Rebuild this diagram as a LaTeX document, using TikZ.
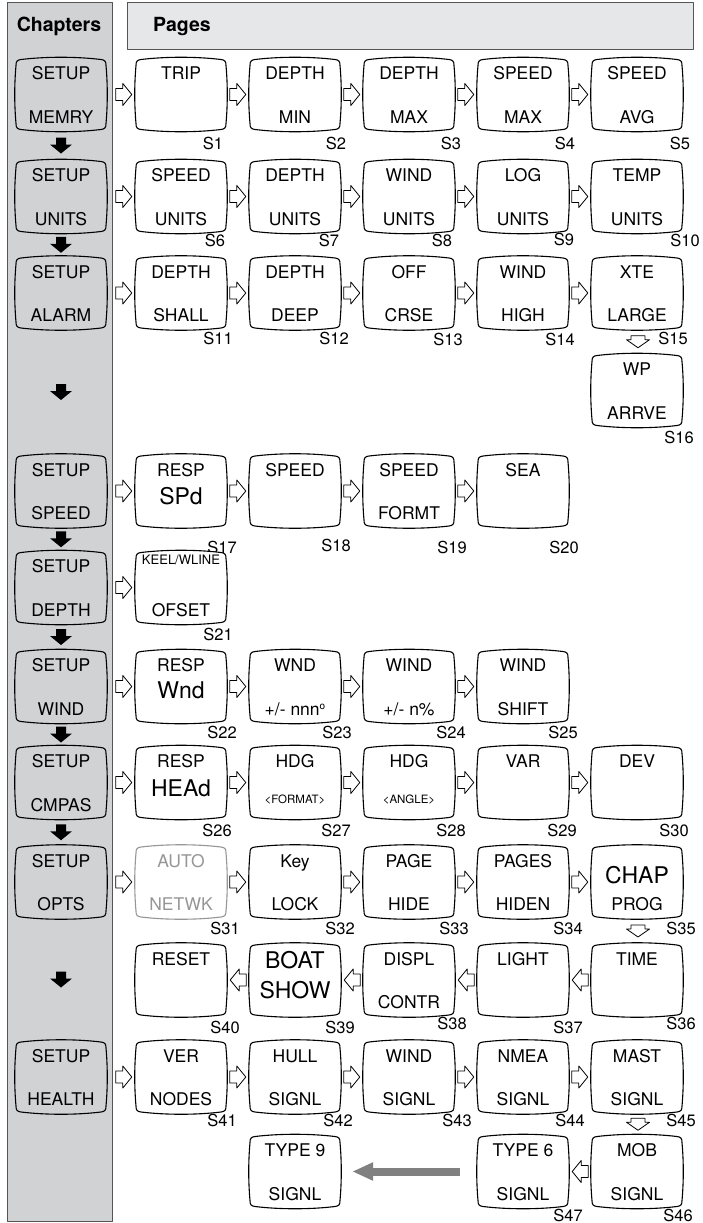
\documentclass[tikz,border=0pt]{standalone}
\usepackage{fontspec}
\setmainfont{TeX Gyre Heros}
\usetikzlibrary{calc,arrows.meta}
\definecolor{panel}{RGB}{209,210,212}
\definecolor{headfill}{RGB}{230,231,232}
\definecolor{framec}{RGB}{85,85,85}
\definecolor{dim}{RGB}{150,150,150}
\definecolor{bigarrow}{RGB}{128,128,128}
\tikzset{
  tvs/.pic={\path[pic actions] (-40,-35) .. controls (-15,-38) and (15,-38) .. (40,-35)
     .. controls (44,-34.5) and (45,-33) .. (45,-29)
     .. controls (46.7,-10) and (46.7,10) .. (45,29)
     .. controls (45,33) and (44,34.5) .. (40,35)
     .. controls (15,38) and (-15,38) .. (-40,35)
     .. controls (-44,34.5) and (-45,33) .. (-45,29)
     .. controls (-46.7,10) and (-46.7,-10) .. (-45,-29)
     .. controls (-45,-33) and (-44,-34.5) .. (-40,-35) -- cycle;},
  rarr/.pic={\path[draw, fill=white, line width=0.8pt] (-8,-6) -- (-1,-6) -- (-1,-11) -- (8,0) -- (-1,11) -- (-1,6) -- (-8,6) -- cycle;},
  larr/.pic={\path[draw, fill=white, line width=0.8pt] (8,-6) -- (1,-6) -- (1,-11) -- (-8,0) -- (1,11) -- (1,6) -- (8,6) -- cycle;},
  darr/.pic={\path[draw, fill=white, line width=0.8pt] (-7,-6) -- (7,-6) -- (7,-2) -- (11.5,-2) -- (0,6) -- (-11.5,-2) -- (-7,-2) -- cycle;},
  barr/.pic={\fill[black] (-5,-8) -- (5,-8) -- (5,-1) -- (11,-1) -- (0,8) -- (-11,-1) -- (-5,-1) -- cycle;}
}
\newcommand\tv[4][]{\pic[draw, fill=white, line width=1.1pt, #1] at (#3,#4) {tvs};\node[boxnode] (#2) at (#3,#4) {};}
\newcommand\toptext[3][]{\node[txt,#1] (#2-u) at ($(#2)+(0,-15)$) {#3};}
\newcommand\bottext[3][]{\node[txt,#1] (#2-d) at ($(#2)+(0,28.5)$) {#3};}
\newcommand\slab[4]{\node[lbl] (#1-s) at (#3,#4) {#2};}
\newcommand\rA[1]{\pic at ($(#1.west)+(-11,0)$) {rarr};}
\newcommand\lA[1]{\pic at ($(#1.east)+(11,0)$) {larr};}
\newcommand\dA[2]{\pic at ($(#1.south)!0.5!(#2.north)+(1,0)$) {darr};}
\newcommand\bA[2]{\pic at ($(#1.south)!0.5!(#2.north)$) {barr};}
\begin{document}
\begin{tikzpicture}[x=1pt,y=-1pt,line join=round,
  boxnode/.style={rectangle, minimum width=92pt, minimum height=73pt, inner sep=0pt},
  txt/.style={inner sep=0pt, anchor=base, font=\fontsize{17.5}{20}\selectfont},
  big/.style={inner sep=0pt, anchor=base, font=\fontsize{23}{26}\selectfont},
  small/.style={inner sep=0pt, anchor=base, font=\fontsize{11.5}{13}\selectfont},
  lbl/.style={inner sep=0pt, font=\fontsize{16.5}{18}\selectfont},
  hdr/.style={inner sep=0pt, anchor=base, font=\bfseries\fontsize{19.5}{22}\selectfont}]
\useasboundingbox (0,0) rectangle (703,1223);
% panels
\draw[framec, fill=panel, line width=1pt] (7,3) rectangle (112,1221);
\draw[framec, fill=headfill, line width=1pt] (127,3) rectangle (693,50);
\node[hdr] (chap) at (59,31.5) {Chapters};
\node[hdr, anchor=base west] (pages) at (153,31.5) {Pages};
% chapter boxes
\tv[fill=panel]{c1}{61}{94.5}  \toptext{c1}{SETUP} \bottext{c1}{MEMRY}
\tv[fill=panel]{c2}{61}{196.5} \toptext{c2}{SETUP} \bottext{c2}{UNITS}
\tv[fill=panel]{c3}{61}{293}   \toptext{c3}{SETUP} \bottext{c3}{ALARM}
\tv[fill=panel]{c4}{61}{491}   \toptext{c4}{SETUP} \bottext{c4}{SPEED}
\tv[fill=panel]{c5}{61}{587.5} \toptext{c5}{SETUP} \bottext{c5}{DEPTH}
\tv[fill=panel]{c6}{61}{686.5} \toptext{c6}{SETUP} \bottext{c6}{WIND}
\tv[fill=panel]{c7}{61}{782.5} \toptext{c7}{SETUP} \bottext{c7}{CMPAS}
\tv[fill=panel]{c8}{61}{882}   \toptext{c8}{SETUP} \bottext{c8}{OPTS}
\tv[fill=panel]{c9}{61}{1077}  \toptext{c9}{SETUP} \bottext{c9}{HEALTH}
\bA{c1}{c2} \bA{c2}{c3} \bA{c3}{c4} \bA{c4}{c5} \bA{c5}{c6} \bA{c6}{c7} \bA{c7}{c8} \bA{c8}{c9}
% row 1
\tv{p1}{181}{94.5} \toptext{p1}{TRIP}
\tv{p2}{295}{94.5} \toptext{p2}{DEPTH} \bottext{p2}{MIN}
\tv{p3}{409}{94.5} \toptext{p3}{DEPTH} \bottext{p3}{MAX}
\tv{p4}{523}{94.5} \toptext{p4}{SPEED} \bottext{p4}{MAX}
\tv{p5}{637}{94.5} \toptext{p5}{SPEED} \bottext{p5}{AVG}
\rA{p1}\rA{p2}\rA{p3}\rA{p4}\rA{p5}
\slab{p1}{S1}{213}{143.5}\slab{p2}{S2}{336}{143.5}\slab{p3}{S3}{451}{143.5}\slab{p4}{S4}{565}{143.5}\slab{p5}{S5}{680}{143.5}
% row 2
\tv{p6}{181}{196.5} \toptext{p6}{SPEED} \bottext{p6}{UNITS}
\tv{p7}{295}{196.5} \toptext{p7}{DEPTH} \bottext{p7}{UNITS}
\tv{p8}{409}{196.5} \toptext{p8}{WIND} \bottext{p8}{UNITS}
\tv{p9}{523}{196.5} \toptext{p9}{LOG} \bottext{p9}{UNITS}
\tv{p10}{637}{196.5} \toptext{p10}{TEMP} \bottext{p10}{UNITS}
\rA{p6}\rA{p7}\rA{p8}\rA{p9}\rA{p10}
\slab{p6}{S6}{215}{240}\slab{p7}{S7}{329}{240}\slab{p8}{S8}{442}{240}\slab{p9}{S9}{564}{239}\slab{p10}{S10}{685}{240}
% row 3
\tv{p11}{181}{293} \toptext{p11}{DEPTH} \bottext{p11}{SHALL}
\tv{p12}{295}{293} \toptext{p12}{DEPTH} \bottext{p12}{DEEP}
\tv{p13}{409}{293} \toptext{p13}{OFF} \bottext{p13}{CRSE}
\tv{p14}{523}{293} \toptext{p14}{WIND} \bottext{p14}{HIGH}
\tv{p15}{637}{293} \toptext{p15}{XTE} \bottext{p15}{LARGE}
\rA{p11}\rA{p12}\rA{p13}\rA{p14}\rA{p15}
\slab{p11}{S11}{218}{338}\slab{p12}{S12}{334}{338}\slab{p13}{S13}{448}{339}\slab{p14}{S14}{560}{339}\slab{p15}{S15}{673}{338}
\tv{p16}{637}{390.5} \toptext{p16}{WP} \bottext{p16}{ARRVE}
\dA{p15}{p16}
\slab{p16}{S16}{679}{437}
% row speed
\tv{p17}{181}{491} \toptext{p17}{RESP} \node[big] (p17-b) at ($(p17)+(0,13)$) {SPd};
\tv{p18}{295}{491} \toptext{p18}{SPEED}
\tv{p19}{409}{491} \toptext{p19}{SPEED} \bottext{p19}{FORMT}
\tv{p20}{523}{491} \toptext{p20}{SEA}
\rA{p17}\rA{p18}\rA{p19}\rA{p20}
\slab{p17}{S17}{222}{547}\slab{p18}{S18}{336}{545}\slab{p19}{S19}{452}{547}\slab{p20}{S20}{564}{547}
% row depth
\tv{p21}{181}{587.5} \node[small, font=\fontsize{13}{14}\selectfont] (p21-u) at ($(p21)+(0,-23.5)$) {KEEL/WLINE}; \bottext{p21}{OFSET}
\rA{p21}
\slab{p21}{S21}{218}{634}
% row wind
\tv{p22}{181}{686.5} \toptext{p22}{RESP} \node[big] (p22-b) at ($(p22)+(0,12)$) {Wnd};
\tv{p23}{295}{686.5} \toptext{p23}{WND} \bottext{p23}{+/- nnn\raisebox{6pt}{\fontsize{10}{10}\selectfont o}}
\tv{p24}{409}{686.5} \toptext{p24}{WIND} \bottext{p24}{+/- n\%}
\tv{p25}{523}{686.5} \toptext{p25}{WIND} \bottext{p25}{SHIFT}
\rA{p22}\rA{p23}\rA{p24}\rA{p25}
\slab{p22}{S22}{222}{732}\slab{p23}{S23}{337}{732}\slab{p24}{S24}{451}{732}\slab{p25}{S25}{563}{732}
% row compass
\tv{p26}{181}{782.5} \toptext{p26}{RESP} \node[big] (p26-b) at ($(p26)+(0,14)$) {HEAd};
\tv{p27}{295}{782.5} \toptext{p27}{HDG} \node[small] (p27-d) at ($(p27)+(0,20.5)$) {<FORMAT>};
\tv{p28}{409}{782.5} \toptext{p28}{HDG} \node[small] (p28-d) at ($(p28)+(0,20.5)$) {<ANGLE>};
\tv{p29}{523}{782.5} \toptext{p29}{VAR}
\tv{p30}{637}{782.5} \toptext{p30}{DEV}
\rA{p26}\rA{p27}\rA{p28}\rA{p29}\rA{p30}
\slab{p26}{S26}{217}{830}\slab{p27}{S27}{336}{830}\slab{p28}{S28}{451}{830}\slab{p29}{S29}{562}{830}\slab{p30}{S30}{674}{830}
% row options
\tv[draw=dim]{p31}{181}{882} \toptext[text=dim]{p31}{AUTO} \bottext[text=dim]{p31}{NETWK}
\tv{p32}{295}{882} \toptext{p32}{Key} \bottext{p32}{LOCK}
\tv{p33}{409}{882} \toptext{p33}{PAGE} \bottext{p33}{HIDE}
\tv{p34}{523}{882} \toptext{p34}{PAGES} \bottext{p34}{HIDEN}
\tv{p35}{637}{882} \node[big] (p35-u) at ($(p35)+(0,1)$) {CHAP}; \bottext{p35}{PROG}
\rA{p31}\rA{p32}\rA{p33}\rA{p34}\rA{p35}
\slab{p31}{S31}{225}{928}\slab{p32}{S32}{340}{928}\slab{p33}{S33}{454}{928}\slab{p34}{S34}{568}{928}\slab{p35}{S35}{681}{928}
% row reverse
\tv{p40}{181}{980} \toptext{p40}{RESET}
\tv{p39}{295}{980} \node[big] (p39-u) at ($(p39)+(0,-12)$) {BOAT}; \node[big] (p39-d) at ($(p39)+(0,18)$) {SHOW};
\tv{p38}{409}{980} \toptext{p38}{DISPL} \bottext{p38}{CONTR}
\tv{p37}{523}{980} \toptext{p37}{LIGHT}
\tv{p36}{637}{980} \toptext{p36}{TIME}
\dA{p35}{p36}
\lA{p40}\lA{p39}\lA{p38}\lA{p37}
\slab{p40}{S40}{225}{1027}\slab{p39}{S39}{340}{1027}\slab{p38}{S38}{452}{1023}\slab{p37}{S37}{568}{1027}\slab{p36}{S36}{681}{1023}
% row health
\tv{p41}{181}{1077} \toptext{p41}{VER} \bottext{p41}{NODES}
\tv{p42}{295}{1077} \toptext{p42}{HULL} \bottext{p42}{SIGNL}
\tv{p43}{409}{1077} \toptext{p43}{WIND} \bottext{p43}{SIGNL}
\tv{p44}{523}{1077} \toptext{p44}{NMEA} \bottext{p44}{SIGNL}
\tv{p45}{637}{1077} \toptext{p45}{MAST} \bottext{p45}{SIGNL}
\rA{p41}\rA{p42}\rA{p43}\rA{p44}\rA{p45}
\slab{p41}{S41}{222}{1120}\slab{p42}{S42}{338}{1120}\slab{p43}{S43}{457}{1120}\slab{p44}{S44}{570}{1120}\slab{p45}{S45}{681}{1120}
% last row
\tv{t9}{295}{1171.5} \toptext{t9}{TYPE 9} \bottext{t9}{SIGNL}
\tv{p47}{523}{1171.5} \toptext{p47}{TYPE 6} \bottext{p47}{SIGNL}
\tv{p46}{637}{1171.5} \toptext{p46}{MOB} \bottext{p46}{SIGNL}
\dA{p45}{p46}
\lA{p47}
\slab{p47}{S47}{568}{1215}\slab{p46}{S46}{678}{1215}
\draw[bigarrow, line width=8pt, -{Triangle[length=21pt,width=17pt]}] ($(p47.west)+(-17,0)$) -- ($(t9.east)+(11,0)$);
\end{tikzpicture}
\end{document}
